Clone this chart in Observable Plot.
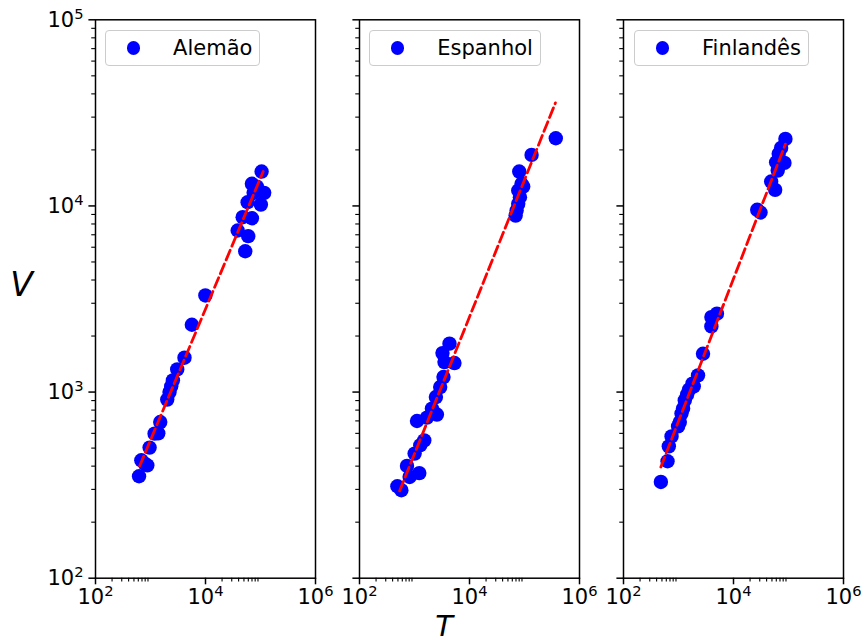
<!DOCTYPE html>
<html><head><meta charset="utf-8">
<script src="https://cdn.jsdelivr.net/npm/d3@7"></script>
<script src="https://cdn.jsdelivr.net/npm/@observablehq/plot@0.6"></script>
<style>
body{margin:0;background:#fff;}
#wrap{position:relative;width:863px;height:642px;font-family:"DejaVu Sans",sans-serif;}
.leg{position:absolute;top:30px;height:36px;box-sizing:border-box;border:1.3px solid #cccccc;border-radius:4px;background:rgba(255,255,255,0.8);display:flex;align-items:center;font-size:21px;color:#000;}
.leg .mk{width:13.5px;height:13.5px;border-radius:50%;background:#0000ff;margin-left:21px;margin-right:33px;flex:none;}
.leg .tx{padding-right:7px;white-space:nowrap;}
</style></head><body><div id="wrap"></div>
<script>
const langs = ["Alemão", "Espanhol", "Finlandês"];

const alemaoT = [619, 681, 782, 875, 963, 1186, 1384, 1505, 2015, 2218, 2381, 2556, 3060, 4150, 5650, 9950, 52800, 38500, 59800, 47400, 69800, 58300, 101600, 75000, 116700, 69800, 86000, 104700];
const alemaoV = [353, 430, 413, 404, 503, 598, 600, 690, 911, 1000, 1073, 1156, 1324, 1530, 2300, 3304, 5710, 7380, 6880, 8700, 8590, 10470, 10170, 11760, 11760, 13150, 12700, 15300];

const espanholT = [488, 577, 815, 1222, 731, 1005, 1274, 1505, 1110, 1684, 2556, 2075, 2450, 2933, 3366, 3510, 5325, 3228, 4325, 69000, 71900, 76900, 82600, 76900, 88500, 94700, 80200, 134500, 370600];
const espanholV = [312, 297, 350, 367, 401, 467, 518, 550, 699, 729, 757, 815, 940, 1064, 1204, 1449, 1432, 1619, 1820, 8880, 9450, 10260, 11140, 12100, 13150, 12700, 15300, 18800, 23100];

const finlandesT = [478, 632, 667, 747, 983, 1056, 1133, 1211, 1300, 1432, 1556, 1893, 1793, 2265, 2790, 3960, 3960, 5000, 27000, 31000, 57200, 48400, 63700, 84300, 59600, 66400, 73400, 87900];
const finlandesV = [329, 425, 511, 578, 654, 690, 766, 815, 902, 968, 1030, 1073, 1110, 1230, 1607, 2253, 2528, 2636, 9530, 9220, 12200, 13520, 15490, 17030, 17160, 19050, 20500, 22900];

// fitted power law V = K * T^beta
const fitLogK = [0.630, 0.460, 0.545];
const fitBeta = [0.704, 0.736, 0.766];
const fitTmin = [635, 537, 478];
const fitTmax = [112000, 365000, 87900];

const xMajor = [1e2, 1e4, 1e6];
const xMinor = [200, 300, 400, 500, 600, 700, 800, 900, 2e4, 3e4, 4e4, 5e4, 6e4, 7e4, 8e4, 9e4];
const yMajor = [1e2, 1e3, 1e4, 1e5];
const yMinor = [2, 3, 4, 5, 6, 7, 8, 9].flatMap(m => [1e2, 1e3, 1e4].map(p => m * p));

const seriesT = [alemaoT, espanholT, finlandesT];
const seriesV = [alemaoV, espanholV, finlandesV];
const points = langs.flatMap((lang, i) => seriesT[i].map((t, j) => ({lang, T: t, V: seriesV[i][j]})));
const fits = langs.flatMap((lang, i) => [fitTmin[i], fitTmax[i]].map(t => ({lang, T: t, V: Math.pow(10, fitLogK[i]) * Math.pow(t, fitBeta[i])})));

const sup = d => "10^" + Math.round(Math.log10(d));
const blank = () => "";

const plot = Plot.plot({
  width: 863, height: 642,
  marginLeft: 94.2, marginRight: 19.7, marginTop: 19.3, marginBottom: 64.3,
  style: {fontFamily: "DejaVu Sans", fontSize: "21px", background: "white", color: "black"},
  fx: {domain: langs, paddingInner: 0.1664, paddingOuter: 0, axis: null, label: null},
  x: {type: "log", domain: [1e2, 1e6], label: null},
  y: {type: "log", domain: [1e2, 1e5], label: null},
  marks: [
    Plot.axisX({ticks: xMinor, tickSize: 3.75, strokeWidth: 1.1, tickFormat: blank, label: null}),
    Plot.axisX({ticks: xMajor, tickSize: 6.6, strokeWidth: 1.5, tickPadding: 4, tickFormat: sup, fontSize: 21, label: null}),
    Plot.axisY({ticks: yMinor, facetAnchor: null, tickSize: 3.75, strokeWidth: 1.1, tickFormat: blank, label: null}),
    Plot.axisY({ticks: yMajor, facetAnchor: null, tickSize: 6.6, strokeWidth: 1.5, tickFormat: blank, label: null}),
    Plot.axisY({ticks: yMajor, tickSize: 0, tickPadding: 12, tickFormat: sup, fontSize: 21, label: null}),
    Plot.dot(points, {x: "T", y: "V", fx: "lang", r: 7.2, fill: "#0000ff"}),
    Plot.line(fits, {x: "T", y: "V", fx: "lang", stroke: "#ff0000", strokeWidth: 2.8, strokeDasharray: "10.4,4.5"}),
    Plot.frame({stroke: "black", strokeWidth: 1.5})
  ]
});

// superscript exponents in tick labels
d3.select(plot).selectAll("text").each(function () {
  const m = (this.textContent || "").match(/^10\^(\d+)$/);
  if (!m) return;
  const t = d3.select(this);
  this.textContent = "";
  t.append("tspan").text("10");
  t.append("tspan").attr("dy", "-8").attr("font-size", "14.7px").text(m[1]);
});

const svg = d3.select(plot);
svg.append("text").attr("x", 21.5).attr("y", 296).attr("text-anchor", "middle")
  .attr("font-size", 33).attr("font-style", "italic").attr("font-family", "DejaVu Sans").text("V");
svg.append("text").attr("x", 444).attr("y", 636).attr("text-anchor", "middle")
  .attr("font-size", 29).attr("font-style", "italic").attr("font-family", "DejaVu Sans").text("T");

const wrap = document.getElementById("wrap");
wrap.appendChild(plot);

// legends
const legLeft = [104.6, 368.7, 633.5];
langs.forEach((lang, i) => {
  const div = document.createElement("div");
  div.className = "leg";
  div.style.left = legLeft[i] + "px";
  const mk = document.createElement("span"); mk.className = "mk";
  const tx = document.createElement("span"); tx.className = "tx"; tx.textContent = lang;
  div.appendChild(mk); div.appendChild(tx);
  wrap.appendChild(div);
});
</script>
</body></html>
